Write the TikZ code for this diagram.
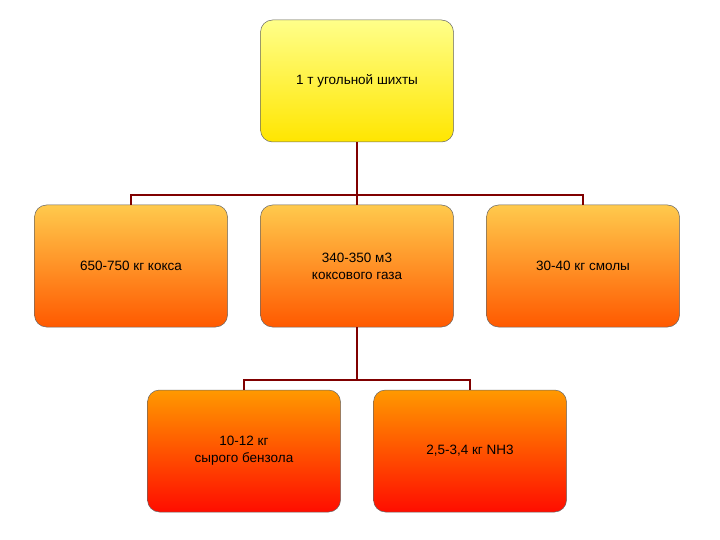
\documentclass[tikz,border=0pt]{standalone}
\usepackage{fontspec}
\setmainfont{Liberation Sans}
\begin{document}
\begin{tikzpicture}[x=1pt,y=-1pt,
 box/.style={draw=black!60,line width=0.5pt,rounded corners=12pt,minimum width=193pt,minimum height=122pt,align=center,font=\fontsize{13.5}{17}\selectfont},
 topbox/.style={box,top color=yellow!40!white!90!yellow,bottom color=yellow!80!orange},
 midbox/.style={box,top color=orange!60!yellow!70,bottom color=orange!70!red},
 lowbox/.style={box,top color=orange!80!yellow,bottom color=red!90!orange},
 con/.style={draw=red!50!black,line width=1.6pt}]
\useasboundingbox (0,0) rectangle (720,540);
\node[topbox] (t) at (357,81) {1 т угольной шихты};
\node[midbox] (a) at (131,266) {650-750 кг кокса};
\node[midbox] (b) at (357,266) {340-350 м3\\коксового газа};
\node[midbox] (c) at (583,266) {30-40 кг смолы};
\node[lowbox] (d) at (244,451) {10-12 кг\\сырого бензола};
\node[lowbox] (e) at (470,451) {2,5-3,4 кг NH3};
\draw[con] (t.south) -- (b.north);
\draw[con] (a.north) -- ++(0,-10) -| (c.north);
\draw[con] (b.south) -- ++(0,52) coordinate (m);
\draw[con] (d.north) -- ++(0,-10) -| (e.north);
\end{tikzpicture}
\end{document}
